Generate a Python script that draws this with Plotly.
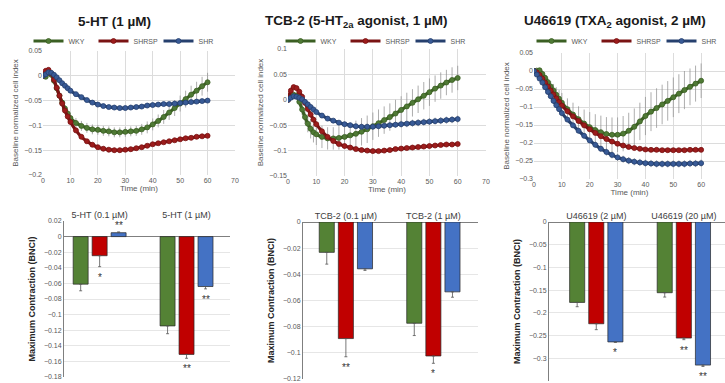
import plotly.graph_objects as go

# ---------------- data ----------------
series = ["WKY", "SHRSP", "SHR"]
time_min = [0, 1, 2, 3, 4, 5, 6, 7, 8, 9, 10, 12, 14, 16, 18, 20, 22, 24, 26, 28, 30,
            32, 34, 36, 38, 40, 42, 44, 46, 48, 50, 52, 54, 56, 58, 60]

# 5-HT (1 uM) time course
ht_wky = [0, -0.002, 0.006, 0.002, -0.010, -0.025, -0.040, -0.054, -0.066, -0.076, -0.085,
          -0.095, -0.101, -0.105, -0.108, -0.109, -0.111, -0.112, -0.114, -0.114, -0.113,
          -0.112, -0.111, -0.108, -0.104, -0.098, -0.091, -0.083, -0.074, -0.065, -0.056,
          -0.047, -0.038, -0.030, -0.021, -0.013]
ht_wky_err = [0, 0, 0, 0.002, 0.003, 0.004, 0.005, 0.006, 0.007, 0.008, 0.009,
              0.010, 0.010, 0.010, 0.010, 0.010, 0.010, 0.010, 0.010, 0.010, 0.010,
              0.010, 0.010, 0.011, 0.012, 0.012, 0.013, 0.014, 0.015, 0.016, 0.016,
              0.017, 0.018, 0.018, 0.019, 0.019]
ht_shrsp = [0, 0.010, 0.012, 0.005, -0.008, -0.024, -0.040, -0.056, -0.070, -0.082, -0.093,
            -0.110, -0.123, -0.132, -0.139, -0.144, -0.147, -0.149, -0.150, -0.150, -0.149,
            -0.148, -0.146, -0.144, -0.141, -0.138, -0.136, -0.134, -0.132, -0.130, -0.128,
            -0.126, -0.125, -0.123, -0.122, -0.121]
ht_shrsp_err = [0, 0.001, 0.001, 0.001, 0.002, 0.002, 0.002, 0.003, 0.003, 0.003, 0.003,
                0.004, 0.004, 0.004, 0.004, 0.005, 0.005, 0.005, 0.005, 0.005, 0.005,
                0.005, 0.004, 0.004, 0.004, 0.004, 0.003, 0.003, 0.003, 0.003, 0.003,
                0.003, 0.003, 0.003, 0.003, 0.003]
ht_shr = [0, 0.003, 0.007, 0.006, 0.002, -0.003, -0.009, -0.015, -0.020, -0.025, -0.030,
          -0.037, -0.043, -0.049, -0.054, -0.058, -0.061, -0.063, -0.064, -0.065, -0.065,
          -0.064, -0.063, -0.062, -0.060, -0.059, -0.058, -0.057, -0.057, -0.056, -0.055,
          -0.054, -0.053, -0.052, -0.051, -0.050]
ht_shr_err = [0, 0.001, 0.001, 0.001, 0.001, 0.001, 0.001, 0.001, 0.001, 0.001, 0.002,
              0.002, 0.002, 0.002, 0.002, 0.002, 0.002, 0.002, 0.002, 0.002, 0.002,
              0.002, 0.002, 0.002, 0.002, 0.002, 0.002, 0.002, 0.002, 0.002, 0.002,
              0.002, 0.002, 0.002, 0.002, 0.002]

# TCB-2 (1 uM) time course
tcb_wky = [0, 0.005, 0.010, 0.008, -0.004, -0.019, -0.034, -0.047, -0.057, -0.064, -0.068,
           -0.073, -0.076, -0.076, -0.075, -0.073, -0.070, -0.067, -0.063, -0.058, -0.052,
           -0.046, -0.040, -0.034, -0.027, -0.020, -0.013, -0.006, 0.001, 0.008, 0.015,
           0.022, 0.028, 0.034, 0.039, 0.043]
tcb_wky_err = [0, 0.002, 0.004, 0.006, 0.008, 0.011, 0.014, 0.017, 0.019, 0.020, 0.021,
               0.022, 0.022, 0.022, 0.023, 0.024, 0.025, 0.026, 0.027, 0.027, 0.027,
               0.027, 0.027, 0.027, 0.027, 0.027, 0.027, 0.027, 0.027, 0.027, 0.027,
               0.026, 0.026, 0.025, 0.025, 0.024]
tcb_shrsp = [0, 0.018, 0.025, 0.023, 0.016, 0.006, -0.006, -0.018, -0.029, -0.039, -0.048,
             -0.062, -0.073, -0.081, -0.087, -0.091, -0.094, -0.097, -0.099, -0.100, -0.101,
             -0.101, -0.100, -0.099, -0.097, -0.096, -0.095, -0.094, -0.093, -0.092, -0.091,
             -0.090, -0.089, -0.088, -0.088, -0.087]
tcb_shrsp_err = [0, 0.001, 0.001, 0.002, 0.002, 0.002, 0.002, 0.002, 0.002, 0.002, 0.002,
                 0.002, 0.002, 0.002, 0.002, 0.002, 0.002, 0.002, 0.002, 0.002, 0.002,
                 0.002, 0.002, 0.002, 0.002, 0.002, 0.002, 0.002, 0.002, 0.002, 0.002,
                 0.002, 0.002, 0.002, 0.002, 0.002]
tcb_shr = [0, 0.004, 0.007, 0.006, 0.004, 0.001, -0.004, -0.009, -0.014, -0.019, -0.024,
           -0.031, -0.037, -0.041, -0.045, -0.048, -0.050, -0.052, -0.053, -0.053, -0.053,
           -0.052, -0.051, -0.050, -0.049, -0.048, -0.047, -0.046, -0.045, -0.044, -0.043,
           -0.042, -0.041, -0.040, -0.039, -0.038]
tcb_shr_err = [0, 0.001, 0.001, 0.001, 0.002, 0.002, 0.002, 0.003, 0.003, 0.003, 0.003,
               0.004, 0.004, 0.004, 0.005, 0.005, 0.005, 0.005, 0.006, 0.006, 0.006,
               0.006, 0.006, 0.006, 0.006, 0.007, 0.007, 0.007, 0.007, 0.007, 0.007,
               0.007, 0.007, 0.007, 0.007, 0.007]

# U46619 (2 uM) time course
u_wky = [0, 0.001, 0.002, -0.008, -0.019, -0.031, -0.043, -0.054, -0.066, -0.077, -0.088,
         -0.106, -0.121, -0.134, -0.146, -0.156, -0.164, -0.170, -0.175, -0.177, -0.177,
         -0.174, -0.166, -0.155, -0.140, -0.125, -0.113, -0.103, -0.093, -0.083, -0.073,
         -0.063, -0.053, -0.044, -0.035, -0.027]
u_wky_err = [0, 0, 0.003, 0.006, 0.009, 0.012, 0.015, 0.018, 0.021, 0.024, 0.027,
             0.030, 0.033, 0.036, 0.039, 0.042, 0.044, 0.046, 0.047, 0.048, 0.048,
             0.049, 0.050, 0.051, 0.052, 0.053, 0.054, 0.055, 0.055, 0.055, 0.055,
             0.054, 0.053, 0.051, 0.050, 0.048]
u_shrsp = [0, -0.004, -0.011, -0.021, -0.032, -0.043, -0.054, -0.065, -0.076, -0.086, -0.096,
           -0.112, -0.126, -0.139, -0.151, -0.162, -0.172, -0.181, -0.189, -0.196, -0.202,
           -0.207, -0.211, -0.214, -0.216, -0.218, -0.219, -0.219, -0.220, -0.220, -0.220,
           -0.220, -0.220, -0.219, -0.219, -0.219]
u_shrsp_err = [0, 0.001, 0.002, 0.002, 0.003, 0.003, 0.004, 0.004, 0.005, 0.005, 0.005,
               0.005, 0.005, 0.005, 0.005, 0.005, 0.005, 0.005, 0.005, 0.005, 0.005,
               0.005, 0.005, 0.005, 0.005, 0.005, 0.005, 0.005, 0.005, 0.005, 0.005,
               0.005, 0.005, 0.005, 0.005, 0.005]
u_shr = [0, -0.010, -0.021, -0.032, -0.045, -0.058, -0.070, -0.083, -0.095, -0.106, -0.117,
         -0.135, -0.151, -0.166, -0.180, -0.193, -0.205, -0.216, -0.225, -0.233, -0.240,
         -0.245, -0.249, -0.252, -0.254, -0.256, -0.257, -0.258, -0.258, -0.258, -0.258,
         -0.258, -0.258, -0.257, -0.257, -0.256]
u_shr_err = [0, 0.001, 0.002, 0.002, 0.003, 0.003, 0.004, 0.004, 0.005, 0.005, 0.006,
             0.006, 0.007, 0.007, 0.008, 0.008, 0.009, 0.009, 0.010, 0.010, 0.010,
             0.010, 0.010, 0.010, 0.010, 0.010, 0.010, 0.010, 0.010, 0.010, 0.010,
             0.010, 0.010, 0.010, 0.010, 0.010]

# Maximum contraction bar charts
ht_cats = ["5-HT (0.1 µM)", "5-HT (1 µM)"]
ht_max = {"WKY": [-0.061, -0.1145], "SHRSP": [-0.0245, -0.151], "SHR": [0.005, -0.064]}
ht_max_err = {"WKY": [0.0085, 0.010], "SHRSP": [0.014, 0.005], "SHR": [0.001, 0.003]}
ht_sig = {"WKY": ["", ""], "SHRSP": ["*", "**"], "SHR": ["**", "**"]}

tcb_cats = ["TCB-2 (0.1 µM)", "TCB-2 (1 µM)"]
tcb_max = {"WKY": [-0.0232, -0.0774], "SHRSP": [-0.0891, -0.1024], "SHR": [-0.0358, -0.0534]}
tcb_max_err = {"WKY": [0.009, 0.0094], "SHRSP": [0.0139, 0.0056], "SHR": [0.0012, 0.0041]}
tcb_sig = {"WKY": ["", ""], "SHRSP": ["**", "*"], "SHR": ["", ""]}

u_cats = ["U46619 (2 µM)", "U46619 (20 µM)"]
u_max = {"WKY": [-0.177, -0.1557], "SHRSP": [-0.224, -0.2555], "SHR": [-0.264, -0.315]}
u_max_err = {"WKY": [0.0095, 0.0095], "SHRSP": [0.013, 0.0035], "SHR": [0.001, 0.003]}
u_sig = {"WKY": ["", ""], "SHRSP": ["", "**"], "SHR": ["*", "**"]}

titles = ["5-HT (1 µM)", "TCB-2 (5-HT<sub>2a</sub> agonist, 1 µM)",
          "U46619 (TXA<sub>2</sub> agonist, 2 µM)"]

# ---------------- styling ----------------
W, H = 725, 383
FONT = "Liberation Sans, Arial, sans-serif"
line_col = {"WKY": "#3b5f23", "SHRSP": "#7a1313", "SHR": "#26406e"}
mark_col = {"WKY": "#4f7a35", "SHRSP": "#9c1c1c", "SHR": "#385a96"}
bar_col = {"WKY": "#548235", "SHRSP": "#c00000", "SHR": "#4472c4"}
BARGAP, BARGROUPGAP = 0.345, 0.21


def px_x(a, b):
    return [a / W, min(b / W, 1.0)]


def px_y(top, bottom):
    return [max(1 - bottom / H, 0.0), 1 - top / H]


fig = go.Figure()

line_panels = [
    (1, "legend", [(ht_wky, ht_wky_err), (ht_shrsp, ht_shrsp_err), (ht_shr, ht_shr_err)]),
    (2, "legend2", [(tcb_wky, tcb_wky_err), (tcb_shrsp, tcb_shrsp_err), (tcb_shr, tcb_shr_err)]),
    (3, "legend3", [(u_wky, u_wky_err), (u_shrsp, u_shrsp_err), (u_shr, u_shr_err)]),
]
for k, leg, data in line_panels:
    sfx = "" if k == 1 else str(k)
    for name, (vals, errs) in zip(series, data):
        fig.add_trace(go.Scatter(
            x=time_min, y=vals, name=name, mode="lines+markers",
            line=dict(color=line_col[name], width=3.2, shape="spline"),
            marker=dict(size=5, color=mark_col[name], line=dict(color=line_col[name], width=0.8)),
            error_y=dict(type="data", array=errs, visible=True, color="#8a8a8a",
                         thickness=0.7, width=0),
            xaxis="x" + sfx, yaxis="y" + sfx, legend=leg, showlegend=True))

bar_panels = [
    (4, ht_cats, ht_max, ht_max_err, ht_sig),
    (5, tcb_cats, tcb_max, tcb_max_err, tcb_sig),
    (6, u_cats, u_max, u_max_err, u_sig),
]
annotations = []
slot = (1 - BARGAP) / 3
for k, cats, vals, errs, sig in bar_panels:
    for si, name in enumerate(series):
        v = vals[name]
        e = errs[name]
        up = [ei if vi > 0 else 0 for vi, ei in zip(v, e)]
        dn = [ei if vi <= 0 else 0 for vi, ei in zip(v, e)]
        fig.add_trace(go.Bar(
            x=cats, y=v, name=name, showlegend=False,
            marker=dict(color=bar_col[name], line=dict(color="#262626", width=0.7)),
            error_y=dict(type="data", symmetric=False, array=up, arrayminus=dn,
                         color="#555555", thickness=0.8, width=1.5),
            xaxis="x%d" % k, yaxis="y%d" % k))
        for ci, s in enumerate(sig[name]):
            if not s:
                continue
            if v[ci] > 0:
                yy, anc, shift = v[ci] + e[ci], "bottom", -1
            else:
                yy, anc, shift = v[ci] - e[ci], "top", -3
            annotations.append(dict(
                x=ci + (si - 1) * slot, y=yy, xref="x%d" % k, yref="y%d" % k,
                text=s, showarrow=False, xanchor="center", yanchor=anc, yshift=shift,
                font=dict(size=10, color="#333333", family=FONT)))

# titles
for cx, t in zip([114, 356, 615], titles):
    annotations.append(dict(x=cx / W, y=1 - 21 / H, xref="paper", yref="paper",
                            xanchor="center", yanchor="middle",
                            text="<b>%s</b>" % t, showarrow=False,
                            font=dict(size=13.5, color="#1a1a1a", family=FONT)))

tick_font = dict(size=7, color="#595959", family=FONT)
title_font = dict(size=8, color="#595959", family=FONT)
grid = "#dcdcdc"

layout = dict(
    width=W, height=H, margin=dict(l=0, r=0, t=0, b=0, autoexpand=False),
    paper_bgcolor="white", plot_bgcolor="white",
    font=dict(family=FONT),
    barmode="group", bargap=BARGAP, bargroupgap=BARGROUPGAP,
    annotations=annotations,
)

line_geo = [
    (1, px_x(43, 235), px_y(51, 175), [-0.2, 0.05], [0, 70]),
    (2, px_x(288, 486), px_y(49, 176), [-0.15, 0.1], [0, 70]),
    (3, px_x(534, 729), px_y(53, 179), [-0.3, 0.05], [0, 70 * 191 / 195]),
]
for k, xd, yd, yr, xr in line_geo:
    sfx = "" if k == 1 else str(k)
    layout["xaxis" + sfx] = dict(
        domain=xd, range=xr, dtick=10, tick0=0, showgrid=True, gridcolor=grid,
        zeroline=False, showline=False, ticks="", tickfont=tick_font,
        title=dict(text="Time (min)", font=title_font, standoff=2),
        anchor="y" + sfx)
    layout["yaxis" + sfx] = dict(
        domain=yd, range=yr, dtick=0.05, showgrid=True, gridcolor=grid,
        zeroline=False, showline=False, ticks="", tickfont=tick_font,
        title=dict(text="Baseline normalized cell index", font=title_font, standoff=4),
        anchor="x" + sfx)

for leg, cx in [("legend", 126), ("legend2", 378), ("legend3", 629)]:
    layout[leg] = dict(orientation="h", x=cx / W, xanchor="center", y=1 - 41 / H,
                       yanchor="middle", font=dict(size=7, color="#595959", family=FONT),
                       bgcolor="rgba(0,0,0,0)", itemwidth=30, entrywidth=20,
                       tracegroupgap=0)

bar_geo = [
    (4, px_x(64, 230), px_y(221, 377), [-0.18, 0.02], 0.02, [-0.41, 1.5]),
    (5, px_x(303, 478), px_y(222, 379), [-0.12, 0.0], 0.02, [-0.49, 1.51]),
    (6, px_x(549, 725), px_y(222, 381), [-0.35, 0.0], 0.05, [-0.54, 1.47]),
]
for k, xd, yd, yr, dt, xr in bar_geo:
    layout["xaxis%d" % k] = dict(
        domain=xd, range=xr, side="top", type="category", showgrid=False,
        zeroline=False, showline=False, ticks="",
        tickfont=dict(size=9, color="#404040", family=FONT), anchor="y%d" % k)
    layout["yaxis%d" % k] = dict(
        domain=yd, range=yr, dtick=dt, showgrid=True, gridcolor="#e6e6e6",
        zeroline=True, zerolinecolor="#7f7f7f", zerolinewidth=1.2,
        showline=True, linecolor="#7f7f7f", linewidth=1, ticks="", tickfont=tick_font,
        title=dict(text="<b>Maximum Contraction (BNCI)</b>",
                   font=dict(size=9, color="#262626", family=FONT), standoff=6),
        anchor="x%d" % k)

fig.update_layout(**layout)
fig.write_html("out.html", config={"displayModeBar": False},
               post_script="document.body.style.margin='0';document.body.style.overflow='hidden';")
